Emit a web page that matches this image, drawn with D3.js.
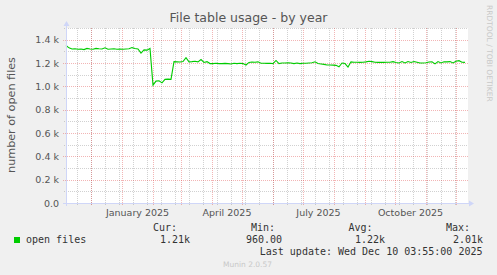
<!DOCTYPE html>
<html>
<head>
<meta charset="utf-8">
<script src="https://cdn.jsdelivr.net/npm/d3@7"></script>
<style>
  body { margin: 0; background: #f0f0f0; }
  svg { display: block; }
</style>
</head>
<body>
<script>
// open files, one sample every 3 days starting 6 Nov 2024
var seriesStart = new Date(2024, 10, 6);
var stepDays = 3;
var openFiles = [
  1350, 1330, 1320, 1322, 1318, 1320, 1315, 1325, 1320, 1318,
  1325, 1322, 1320, 1330, 1318, 1320, 1322, 1318, 1320, 1318,
  1320, 1322, 1332, 1325, 1320, 1285, 1312, 1310, 1325, 1010,
  1045, 1048, 1030, 1060, 1062, 1060, 1212, 1210, 1208, 1212,
  1245, 1210, 1212, 1215, 1210, 1230, 1205, 1212, 1195, 1195,
  1198, 1195, 1195, 1197, 1195, 1192, 1198, 1195, 1198, 1195,
  1183, 1205, 1208, 1207, 1210, 1198, 1198, 1197, 1198, 1195,
  1222, 1195, 1200, 1200, 1202, 1200, 1195, 1200, 1195, 1198,
  1198, 1200, 1202, 1210, 1195, 1192, 1188, 1183, 1183, 1182,
  1180, 1168, 1200, 1195, 1165, 1210, 1207, 1207, 1205, 1207,
  1210, 1215, 1212, 1207, 1205, 1207, 1205, 1207, 1207, 1212,
  1205, 1200, 1212, 1200, 1213, 1205, 1213, 1207, 1200, 1200,
  1202, 1208, 1210, 1192, 1212, 1200, 1210, 1210, 1212, 1200,
  1215, 1220, 1207, 1205
];

var yTicks = [0, 200, 400, 600, 800, 1000, 1200, 1400];
var monthLabels = [
  {date: new Date(2025, 0, 1), text: 'January 2025'},
  {date: new Date(2025, 3, 1), text: 'April 2025'},
  {date: new Date(2025, 6, 1), text: 'July 2025'},
  {date: new Date(2025, 9, 1), text: 'October 2025'}
];
var legendNames = ['open files'];
var legendHeads = ['Cur:', 'Min:', 'Avg:', 'Max:'];
var legendValues = ['1.21k', '960.00', '1.22k', '2.01k'];
var lastUpdate = 'Last update: Wed Dec 10 03:55:00 2025';

var svgWidth = 497, svgHeight = 275;
var plotLeft = 66, plotRight = 468, plotTop = 28, plotBottom = 203;

var svg = d3.select('body').append('svg')
  .attr('width', svgWidth)
  .attr('height', svgHeight);

svg.append('rect')
  .attr('width', svgWidth).attr('height', svgHeight)
  .attr('fill', '#f0f0f0');

var x = d3.scaleTime()
  .domain([new Date(2024, 10, 6), new Date(2025, 11, 13)])
  .range([plotLeft, plotRight]);
var y = d3.scaleLinear()
  .domain([0, 1500])
  .range([plotBottom, plotTop]);

// canvas
svg.append('rect')
  .attr('x', plotLeft).attr('y', plotTop)
  .attr('width', plotRight - plotLeft).attr('height', plotBottom - plotTop)
  .attr('fill', '#ffffff');

var minorColor = 'rgba(140,140,140,0.4)';
var majorColor = 'rgba(220,60,60,0.38)';

// minor grid: every 100 and every two weeks
var minorY = d3.range(100, 1501, 100).filter(function (v) { return v % 200 != 0; });
svg.selectAll('line.minor-y')
  .data(minorY).enter().append('line')
  .attr('x1', plotLeft - 2).attr('x2', plotRight)
  .attr('y1', function (d) { return Math.round(y(d)) + 0.5; })
  .attr('y2', function (d) { return Math.round(y(d)) + 0.5; })
  .attr('stroke', minorColor).attr('stroke-dasharray', '1,1')
  .attr('shape-rendering', 'crispEdges');

var minorX = d3.timeDay.range(new Date(2024, 10, 3), x.domain()[1], 14)
  .filter(function (d) { return d > x.domain()[0]; });
svg.selectAll('line.minor-x')
  .data(minorX).enter().append('line')
  .attr('x1', function (d) { return Math.round(x(d)) + 0.5; })
  .attr('x2', function (d) { return Math.round(x(d)) + 0.5; })
  .attr('y1', plotTop).attr('y2', plotBottom + 2)
  .attr('stroke', minorColor).attr('stroke-dasharray', '1,1')
  .attr('shape-rendering', 'crispEdges');

// major grid: every 200 and every month
svg.selectAll('line.major-y')
  .data(yTicks.filter(function (v) { return v > 0; })).enter().append('line')
  .attr('x1', plotLeft - 3).attr('x2', plotRight)
  .attr('y1', function (d) { return Math.round(y(d)) + 0.5; })
  .attr('y2', function (d) { return Math.round(y(d)) + 0.5; })
  .attr('stroke', majorColor).attr('stroke-dasharray', '1,1')
  .attr('shape-rendering', 'crispEdges');

var months = d3.timeMonth.range(x.domain()[0], x.domain()[1]);
svg.selectAll('line.major-x')
  .data(months).enter().append('line')
  .attr('x1', function (d) { return Math.round(x(d)) + 0.5; })
  .attr('x2', function (d) { return Math.round(x(d)) + 0.5; })
  .attr('y1', plotTop).attr('y2', plotBottom + 3)
  .attr('stroke', majorColor).attr('stroke-dasharray', '1,1')
  .attr('shape-rendering', 'crispEdges');

// data line
var line = d3.line()
  .x(function (d, i) { return x(d3.timeDay.offset(seriesStart, i * stepDays)); })
  .y(function (d) { return y(d); });
svg.append('path')
  .datum(openFiles)
  .attr('d', line)
  .attr('fill', 'none')
  .attr('stroke', '#00cc00')
  .attr('stroke-width', 1.1);

// axes
var axisColor = '#cfd6f8';
svg.append('line')
  .attr('x1', plotLeft - 3).attr('x2', plotRight + 1)
  .attr('y1', plotBottom + 0.5).attr('y2', plotBottom + 0.5)
  .attr('stroke', axisColor);
svg.append('line')
  .attr('x1', plotLeft + 0.5).attr('x2', plotLeft + 0.5)
  .attr('y1', plotBottom + 3).attr('y2', plotTop - 2)
  .attr('stroke', axisColor);
svg.append('path')
  .attr('d', 'M' + (plotLeft - 2.5) + ',' + (plotTop - 2) + 'L' + (plotLeft + 0.5) + ',' + (plotTop - 7) + 'L' + (plotLeft + 3.5) + ',' + (plotTop - 2) + 'Z')
  .attr('fill', axisColor);
svg.append('path')
  .attr('d', 'M' + (plotRight + 1) + ',' + (plotBottom - 2.5) + 'L' + (plotRight + 6) + ',' + (plotBottom + 0.5) + 'L' + (plotRight + 1) + ',' + (plotBottom + 3.5) + 'Z')
  .attr('fill', axisColor);

// y tick labels
svg.selectAll('text.ytick')
  .data(yTicks).enter().append('text')
  .attr('x', plotLeft - 7)
  .attr('y', function (d) { return y(d) + 3.5; })
  .attr('text-anchor', 'end')
  .attr('font-family', 'DejaVu Sans')
  .attr('font-size', '9.5px')
  .attr('fill', '#555')
  .text(function (d) { return d == 0 ? '0.0' : (d / 1000).toFixed(1) + ' k'; });

// x labels, centred on their month
svg.selectAll('text.xtick')
  .data(monthLabels).enter().append('text')
  .attr('x', function (d) { return (x(d.date) + x(d3.timeMonth.offset(d.date, 1))) / 2; })
  .attr('y', 216)
  .attr('text-anchor', 'middle')
  .attr('font-family', 'DejaVu Sans')
  .attr('font-size', '9.5px')
  .attr('fill', '#555')
  .text(function (d) { return d.text; });

// title and side texts
svg.append('text')
  .attr('x', 248.5).attr('y', 22)
  .attr('text-anchor', 'middle')
  .attr('font-family', 'DejaVu Sans')
  .attr('font-size', '12.5px')
  .attr('fill', '#555')
  .text('File table usage - by year');

svg.append('text')
  .attr('transform', 'translate(15,115) rotate(-90)')
  .attr('text-anchor', 'middle')
  .attr('font-family', 'DejaVu Sans')
  .attr('font-size', '11.2px')
  .attr('fill', '#555')
  .text('number of open files');

svg.append('text')
  .attr('transform', 'translate(486.5,5) rotate(90)')
  .attr('font-family', 'DejaVu Sans')
  .attr('font-size', '7.5px')
  .attr('fill', '#c8c8c8')
  .text('RRDTOOL / TOBI OETIKER');

// legend
var mono = 'DejaVu Sans Mono';
svg.append('rect')
  .attr('x', 14).attr('y', 237).attr('width', 6).attr('height', 6)
  .attr('fill', '#00cc00');
svg.selectAll('text.lname')
  .data(legendNames).enter().append('text')
  .attr('x', 26).attr('y', 242.5)
  .attr('font-family', mono).attr('font-size', '10px').attr('fill', '#333')
  .text(function (d) { return d; });

var headEnds = [177, 275, 372.5, 470];
var valueEnds = [190, 282, 385, 483];
svg.selectAll('text.lhead')
  .data(legendHeads).enter().append('text')
  .attr('x', function (d, i) { return headEnds[i]; })
  .attr('y', 230.5)
  .attr('text-anchor', 'end')
  .attr('font-family', mono).attr('font-size', '10px').attr('fill', '#333')
  .text(function (d) { return d; });
svg.selectAll('text.lval')
  .data(legendValues).enter().append('text')
  .attr('x', function (d, i) { return valueEnds[i]; })
  .attr('y', 242.5)
  .attr('text-anchor', 'end')
  .attr('font-family', mono).attr('font-size', '10px').attr('fill', '#333')
  .text(function (d) { return d; });
svg.append('text')
  .attr('x', 482.5).attr('y', 254.5)
  .attr('text-anchor', 'end')
  .attr('font-family', mono).attr('font-size', '10px').attr('fill', '#333')
  .text(lastUpdate);

svg.append('text')
  .attr('x', 247.5).attr('y', 267)
  .attr('text-anchor', 'middle')
  .attr('font-family', 'DejaVu Sans')
  .attr('font-size', '7.5px')
  .attr('fill', '#c8c8c8')
  .text('Munin 2.0.57');
</script>
</body>
</html>
